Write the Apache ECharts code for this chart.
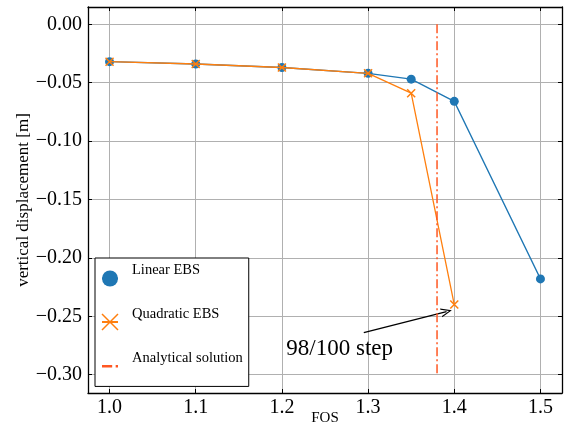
<!DOCTYPE html>
<html>
<head>
<meta charset="utf-8">
<script src="https://cdn.jsdelivr.net/npm/echarts@6/dist/echarts.min.js"></script>
<style>
  html, body { margin: 0; padding: 0; background: #fff; }
  #chart { width: 564px; height: 439px; }
</style>
</head>
<body>
<div id="chart"></div>
<script>
// data
const fosLinear = [1.0, 1.1, 1.2, 1.3, 1.35, 1.4, 1.5]
const dispLinear = [-0.032, -0.034, -0.037, -0.042, -0.047, -0.066, -0.218]
const fosQuad = [1.0, 1.1, 1.2, 1.3, 1.35, 1.4]
const dispQuad = [-0.032, -0.034, -0.037, -0.042, -0.059, -0.240]
const fosAnalytical = 1.38
const analyticalSpan = [0, -0.30]

// axis ticks
const xTicks = [1.0, 1.1, 1.2, 1.3, 1.4, 1.5]
const yTicks = [0, -0.05, -0.10, -0.15, -0.20, -0.25, -0.30]

// annotation
const noteText = '98/100 step'
const notePos = [1.267, -0.278]
const arrowFrom = [1.295, -0.264]
const arrowTo = [1.391, -0.246]

const serif = '"Liberation Serif", "DejaVu Serif", serif'
const xMark = 'path://M0,0L10,10M10,0L0,10'
const arrowHead = 'path://M0,10L5,0L10,10L8.6,10L5,2.6L1.4,10Z'
const dashDot = 'path://M0,0L7,0L7,1.6L0,1.6Z M9.4,0L11,0L11,1.6L9.4,1.6Z'

const pairs = (xs, ys) => xs.map((x, i) => [x, ys[i]])
const fmtY = v => (v < 0 ? '\u2212' : '') + Math.abs(v).toFixed(2)

const chart = echarts.init(document.getElementById('chart'))

const frameAxis = {
  axisLine: { show: true, onZero: false, lineStyle: { color: '#000', width: 1.3 } },
  axisLabel: { show: false },
  splitLine: { show: false }
}

chart.setOption({
  animation: false,
  grid: { left: 88, top: 7, right: 2, bottom: 46 },
  xAxis: [
    {
      type: 'value',
      min: 0.975,
      max: 1.525,
      name: 'FOS',
      nameLocation: 'middle',
      nameGap: 18,
      nameMoveOverlap: false,
      nameTextStyle: { color: '#000', fontFamily: serif, fontSize: 15 },
      axisLine: { onZero: false, lineStyle: { color: '#000', width: 1.3 } },
      axisTick: { inside: true, length: 4, customValues: xTicks, lineStyle: { color: '#000' } },
      axisLabel: {
        customValues: xTicks, margin: 5,
        color: '#000', fontFamily: serif, fontSize: 20,
        formatter: v => v.toFixed(1)
      },
      splitLine: { show: true, lineStyle: { color: '#b0b0b0', width: 1 } }
    },
    Object.assign({
      type: 'value', position: 'top', min: 0.975, max: 1.525,
      axisTick: { inside: true, length: 4, customValues: xTicks, lineStyle: { color: '#000' } }
    }, frameAxis)
  ],
  yAxis: [
    {
      type: 'value',
      min: -0.3157,
      max: 0.0148,
      name: 'vertical displacement [m]',
      nameLocation: 'middle',
      nameGap: 56,
      nameMoveOverlap: false,
      nameTextStyle: { color: '#000', fontFamily: serif, fontSize: 17 },
      axisLine: { show: true, onZero: false, lineStyle: { color: '#000', width: 1.3 } },
      axisTick: { show: true, inside: true, length: 4, customValues: yTicks, lineStyle: { color: '#000' } },
      axisLabel: {
        customValues: yTicks, margin: 6,
        color: '#000', fontFamily: serif, fontSize: 20,
        formatter: fmtY
      },
      splitLine: { show: true, lineStyle: { color: '#b0b0b0', width: 1 } }
    },
    Object.assign({
      type: 'value', position: 'right', min: -0.3157, max: 0.0148,
      axisTick: { show: true, inside: true, length: 4, customValues: yTicks, lineStyle: { color: '#000' } }
    }, frameAxis)
  ],
  legend: {
    left: 95,
    top: 258,
    orient: 'vertical',
    selectedMode: false,
    backgroundColor: '#fff',
    borderColor: '#000',
    borderWidth: 1,
    borderRadius: 0,
    padding: [5, 6, 19, 6],
    itemWidth: 16,
    itemHeight: 20,
    itemGap: 20,
    formatter: name => '{t|' + name + '}',
    textStyle: {
      color: '#000', fontFamily: serif, fontSize: 14.5,
      rich: { t: { color: '#000', fontFamily: serif, fontSize: 14.5, padding: [0, 0, 16, 9] } }
    },
    data: [
      { name: 'Linear EBS' },
      { name: 'Quadratic EBS', itemStyle: { borderColor: '#ff7f0e', borderWidth: 1.5 } },
      { name: 'Analytical solution', icon: dashDot, itemStyle: { color: '#ff5722', borderWidth: 0 } }
    ]
  },
  series: [
    {
      name: 'Linear EBS',
      type: 'line',
      data: pairs(fosLinear, dispLinear),
      symbol: 'circle',
      symbolSize: 9,
      lineStyle: { color: '#1f77b4', width: 1.3 },
      itemStyle: { color: '#1f77b4', borderWidth: 0 },
      z: 3
    },
    {
      name: 'Quadratic EBS',
      type: 'line',
      data: pairs(fosQuad, dispQuad),
      symbol: xMark,
      symbolSize: 8,
      lineStyle: { color: '#ff7f0e', width: 1.3 },
      itemStyle: { color: '#ff7f0e', borderColor: '#ff7f0e', borderWidth: 1.5 },
      z: 4,
      markLine: {
        silent: true,
        symbol: ['none', arrowHead],
        symbolSize: [9, 11],
        lineStyle: { color: '#000', width: 1.3, type: 'solid' },
        label: { show: false },
        data: [[{ coord: arrowFrom }, { coord: arrowTo }]]
      },
      markPoint: {
        silent: true,
        symbol: 'circle',
        symbolSize: 1,
        itemStyle: { color: 'rgba(0,0,0,0)' },
        label: {
          show: true, position: 'inside', formatter: noteText,
          color: '#000', fontFamily: serif, fontSize: 23
        },
        data: [{ coord: notePos }]
      }
    },
    {
      name: 'Analytical solution',
      type: 'line',
      data: analyticalSpan.map(y => [fosAnalytical, y]),
      symbol: 'none',
      lineStyle: { color: '#ff5722', width: 1.5, type: [9, 3, 2, 3] },
      itemStyle: { color: '#ff5722' },
      z: 5
    }
  ]
})
</script>
</body>
</html>
